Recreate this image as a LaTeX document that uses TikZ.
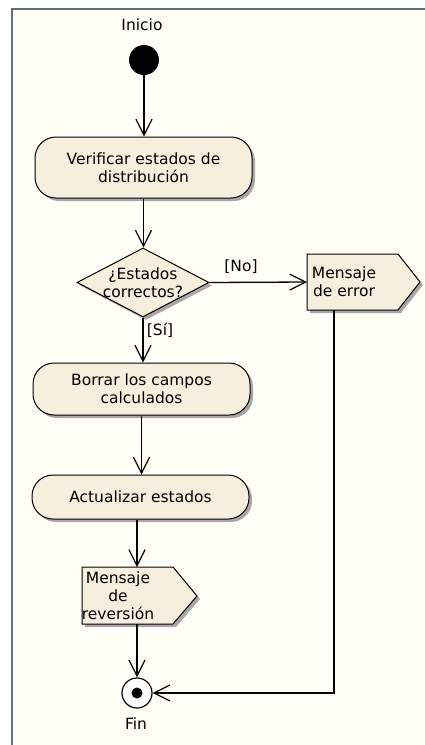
\documentclass[tikz,border=0pt]{standalone}
\usepackage{fontspec}
\setmainfont{DejaVu Sans}
\usetikzlibrary{arrows.meta,shapes.geometric,shadows,calc}
\definecolor{cream}{HTML}{F6EFDE}
\definecolor{framec}{HTML}{5E6E7E}
\definecolor{bgc}{HTML}{FFFFF7}
\definecolor{shadowc}{HTML}{A8A8A8}
\begin{document}
\begin{tikzpicture}[x=1pt,y=-1pt,
  font=\fontsize{15.5}{18}\selectfont,
  action/.style={draw=black, line width=1pt, fill=cream, rounded corners=21pt,
    minimum width=217pt, align=center, inner sep=2pt,
    drop shadow={shadow xshift=3pt, shadow yshift=-3pt, fill=shadowc, opacity=1}},
  decision/.style={diamond, draw=black, line width=1pt, fill=cream, aspect=2,
    inner sep=0pt, minimum width=132pt, minimum height=69pt,
    drop shadow={shadow xshift=3pt, shadow yshift=-3pt, fill=shadowc, opacity=1}},
  signalbox/.style={draw=black, line width=1pt, fill=cream},
  signalshadow/.style={fill=shadowc},
  msgtext/.style={align=center, inner sep=0pt},
  lbl/.style={inner sep=1pt},
  startc/.style={circle, fill=black, minimum size=30pt, inner sep=0pt},
  finc/.style={circle, draw=black, line width=1.2pt, fill=white, minimum size=30pt, inner sep=0pt},
  findot/.style={circle, fill=black, minimum size=11pt, inner sep=0pt},
  arr/.style={line width=1.3pt, -{Straight Barb[length=16pt,width=16pt,line width=1.2pt]}}
]
\useasboundingbox (0,0) rectangle (425,745);
\fill[white] (0,0) rectangle (425,745);
\fill[bgc] (12,9) rectangle (425,745);
\draw[framec, line width=2.2pt] (12,745) -- (12,9) -- (425,9);

% start
\node[lbl] (inilab) at (142,25) {Inicio};
\node[startc] (ini) at (144,60) {};

% actions
\node[action, minimum height=61pt] (a1) at (143.5,167.5) {Verificar estados de\\distribución};
\node[decision] (dec) at (143,282.5) {};
\node[msgtext] (dect) at (dec.center) {¿Estados\\correctos?};
\node[action, minimum height=52pt] (a2) at (141.5,389) {Borrar los campos\\calculados};
\node[action, minimum height=44pt] (a3) at (140.5,497) {Actualizar estados};

% error signal
\coordinate (e1) at (307,254);
\coordinate (e2) at (398,254);
\coordinate (e3) at (420,282);
\coordinate (e4) at (398,310);
\coordinate (e5) at (307,310);
\coordinate (eleft) at (307,282);
\coordinate (ebot) at (334,310);
\fill[signalshadow] ($(e1)+(3,3)$) -- ($(e2)+(3,3)$) -- ($(e3)+(3,3)$) -- ($(e4)+(3,3)$) -- ($(e5)+(3,3)$) -- cycle;
\draw[signalbox] (e1) -- (e2) -- (e3) -- (e4) -- (e5) -- cycle;
\node[msgtext] (errt) at (344,282) {Mensaje\\de error};

% reversion signal
\coordinate (r1) at (82,567);
\coordinate (r2) at (173,567);
\coordinate (r3) at (197,596);
\coordinate (r4) at (173,624);
\coordinate (r5) at (82,624);
\coordinate (rtop) at (137,567);
\coordinate (rbot) at (137,624);
\fill[signalshadow] ($(r1)+(3,3)$) -- ($(r2)+(3,3)$) -- ($(r3)+(3,3)$) -- ($(r4)+(3,3)$) -- ($(r5)+(3,3)$) -- cycle;
\draw[signalbox] (r1) -- (r2) -- (r3) -- (r4) -- (r5) -- cycle;
\node[msgtext] (revt) at (118,595.5) {Mensaje\\de\\reversión};

% end
\node[finc] (fin) at (137,693) {};
\node[findot] (fdot) at (fin.center) {};
\node[lbl] (finlab) at (136,724) {Fin};

% connectors
\draw[arr] (ini.south) -- (ini.south |- a1.north);
\draw[arr] (a1.south) -- (a1.south |- dec.north);
\draw[arr] (dec.east) -- (eleft);
\node[lbl] (nolab) at (241,267) {[No]};
\draw[arr] (dec.south) -- (dec.south |- a2.north);
\node[lbl] (silab) at (160,330) {[Sí]};
\draw[arr] (a2.south) -- (a2.south |- a3.north);
\draw[arr] (a3.south -| rtop) -- (rtop);
\draw[arr] (rbot) -- (fin.north);
\draw[arr] (ebot) |- (fin.east);
\end{tikzpicture}
\end{document}
